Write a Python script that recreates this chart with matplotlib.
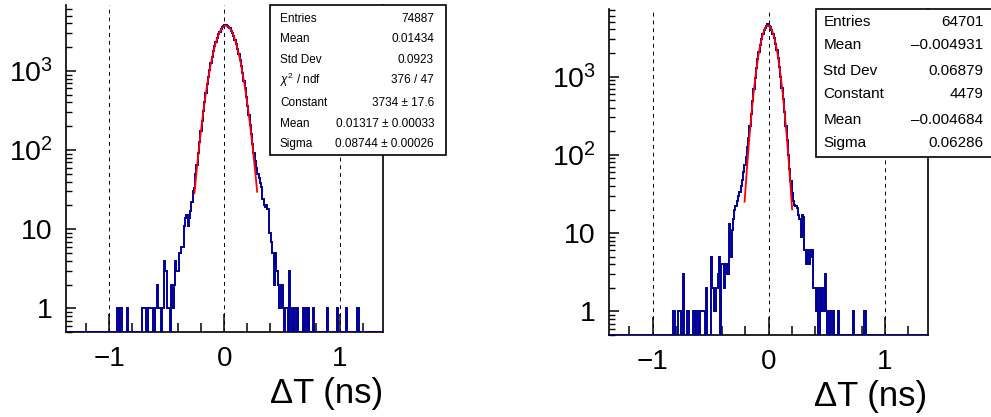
import numpy as np
import matplotlib.pyplot as plt
from matplotlib.patches import Rectangle
from matplotlib.ticker import MultipleLocator, LogLocator, FixedLocator, FixedFormatter, NullFormatter

plt.rcParams.update({
    'font.family': 'Liberation Sans',
    'mathtext.fontset': 'custom',
    'mathtext.rm': 'Liberation Sans',
    'mathtext.it': 'Liberation Sans:italic',
    'mathtext.sf': 'Liberation Sans',
})

# ---- binning shared by both histograms ----
bin_lo, bin_hi, n_bins = -1.375, 1.375, 250

# ---- left panel: bin contents (starting at bin 38) ----
left_first_bin = 38
left_counts = [
    0, 0, 1, 1, 0, 1, 0, 0, 0, 0,
    1, 0, 0, 0, 0, 0, 0, 0, 0, 0,
    0, 0, 1, 1, 1, 0, 0, 1, 1, 1,
    1, 0, 1, 1, 2, 1, 1, 0, 1, 4,
    3, 3, 1, 1, 0, 2, 1, 2, 4, 3,
    3, 5, 5, 6, 6, 11, 14, 15, 11, 14,
    17, 22, 30, 33, 50, 65, 92, 128, 175, 236,
    313, 410, 530, 675, 845, 1040, 1265, 1510, 1775, 2050,
    2340, 2620, 2890, 3140, 3360, 3540, 3690, 3790, 3810, 3720,
    3600, 3440, 3230, 2990, 2730, 2455, 2170, 1890, 1620, 1370,
    1140, 935, 755, 600, 470, 365, 280, 210, 160, 120,
    92, 72, 60, 50, 44, 38, 34, 24, 20, 19,
    20, 18, 9, 9, 7, 5, 2, 5, 3, 2,
    1, 1, 2, 1, 0, 1, 1, 0, 3, 1,
    0, 1, 1, 0, 1, 0, 0, 0, 0, 1,
    0, 1, 0, 1, 0, 0, 0, 1, 0, 0,
    0, 0, 0, 0, 0, 0, 0, 0, 1, 0,
    0, 0, 0, 0, 0, 0, 1, 0, 0, 0,
    0, 0, 0, 1, 0, 0, 0, 0, 0, 0,
    0, 0, 1,
]

# ---- right panel: bin contents (starting at bin 50) ----
right_first_bin = 50
right_counts = [
    1, 1, 0, 0, 1, 1, 0, 0, 3, 0,
    0, 1, 1, 0, 0, 0, 1, 0, 1, 1,
    0, 1, 1, 1, 1, 0, 2, 0, 0, 0,
    5, 2, 1, 1, 2, 3, 5, 0, 4, 4,
    2, 4, 3, 3, 13, 5, 11, 15, 20, 22,
    26, 30, 34, 40, 48, 60, 75, 95, 125, 165,
    230, 335, 485, 690, 950, 1270, 1650, 2080, 2550, 3020,
    3480, 3880, 4200, 4450, 4650, 4480, 4240, 3930, 3540, 3090,
    2620, 2150, 1710, 1320, 990, 720, 510, 350, 235, 155,
    100, 66, 46, 33, 26, 23, 22, 21, 17, 15,
    9, 17, 16, 6, 4, 6, 4, 6, 5, 6,
    2, 2, 1, 2, 0, 2, 1, 2, 1, 3,
    1, 0, 1, 1, 0, 1, 0, 0, 0, 1,
    0, 0, 0, 0, 0, 0, 0, 0, 0, 0,
    0, 1, 0, 0, 0, 0, 0, 0, 0, 0,
    1,
]

# gaussian fit results (constant, mean, sigma) and fit ranges
left_fit = (3734, 0.01317, 0.08744)
left_fit_range = (-0.26, 0.285)
right_fit = (4479, -0.004684, 0.06286)
right_fit_range = (-0.207, 0.202)

left_stats = [
    ("Entries", "74887"),
    ("Mean", "0.01434"),
    ("Std Dev", "0.0923"),
    ("$\\chi^{2}$ / ndf", "376 / 47"),
    ("Constant", "3734 \u00b1 17.6"),
    ("Mean", "0.01317 \u00b1 0.00033"),
    ("Sigma", "0.08744 \u00b1 0.00026"),
]
right_stats = [
    ("Entries", "64701"),
    ("Mean", "\u20130.004931"),
    ("Std Dev", "0.06879"),
    ("Constant", "4479"),
    ("Mean", "\u20130.004684"),
    ("Sigma", "0.06286"),
]

W, H = 991, 417
fig = plt.figure(figsize=(W / 100, H / 100), dpi=100)


def px_axes(x0, x1, ytop, ybot):
    return fig.add_axes([x0 / W, 1 - ybot / H, (x1 - x0) / W, (ybot - ytop) / H])


def draw_panel(ax, first_bin, counts, fit, fit_range, ymax):
    edges = np.linspace(bin_lo, bin_hi, n_bins + 1)
    full = np.zeros(n_bins)
    full[first_bin:first_bin + len(counts)] = counts
    ymin = 0.5

    ax.set_yscale('log')
    ax.set_xlim(bin_lo, bin_hi)
    ax.set_ylim(ymin, ymax)

    # dashed guide lines
    for xv in (-1, 0, 1):
        ax.axvline(xv, color='black', lw=0.7, ls=(0, (4, 4)), zorder=1)

    # empty bins sit on the frame, as ROOT draws them
    ax.stairs(np.maximum(full, ymin), edges, baseline=None,
              color='#000099', lw=1.4, zorder=3)

    c, m, s = fit
    xs = np.linspace(fit_range[0], fit_range[1], 300)
    ax.plot(xs, c * np.exp(-0.5 * ((xs - m) / s) ** 2), color='red', lw=1.3, zorder=4)

    ax.xaxis.set_major_locator(FixedLocator([-1, 0, 1]))
    ax.xaxis.set_major_formatter(FixedFormatter(['\u22121', '0', '1']))
    ax.xaxis.set_minor_locator(MultipleLocator(0.2))
    ax.yaxis.set_major_locator(FixedLocator([1, 10, 100, 1000]))
    ax.yaxis.set_major_formatter(FixedFormatter(['1', '10', '$10^{2}$', '$10^{3}$']))
    ax.yaxis.set_minor_locator(LogLocator(base=10, subs=np.arange(2, 10)))
    ax.yaxis.set_minor_formatter(NullFormatter())

    ax.tick_params(axis='x', which='major', direction='in', length=13, width=1.1,
                   labelsize=20, pad=10)
    ax.tick_params(axis='x', which='minor', direction='in', length=6.5, width=1.1)
    ax.tick_params(axis='y', which='major', direction='in', length=7.5, width=1.1,
                   labelsize=20.5, pad=9.5)
    ax.tick_params(axis='y', which='minor', direction='in', length=4, width=1.0)
    ax.tick_params(top=False, right=False, which='both')

    ax.spines['top'].set_visible(False)
    for sp in ('left', 'bottom', 'right'):
        ax.spines[sp].set_linewidth(1.2)


def stats_box(x0, x1, ytop, ybot, rows, row_y, xl, xr, size):
    fig.add_artist(Rectangle((x0 / W, 1 - ybot / H), (x1 - x0) / W, (ybot - ytop) / H,
                             transform=fig.transFigure, facecolor='white',
                             edgecolor='black', lw=1.2, zorder=10, clip_on=False))
    for (lab, val), y in zip(rows, row_y):
        fig.text(xl / W, 1 - y / H, lab, ha='left', va='center', fontsize=size, zorder=11)
        fig.text(xr / W, 1 - y / H, val, ha='right', va='center', fontsize=size, zorder=11)


ax1 = px_axes(66, 382.7, 5, 332.3)
draw_panel(ax1, left_first_bin, left_counts, left_fit, left_fit_range, 6790)
ax2 = px_axes(609, 928.3, 9, 335)
draw_panel(ax2, right_first_bin, right_counts, right_fit, right_fit_range, 7280)

stats_box(270, 446, 5, 155, left_stats,
          [19, 39.3, 60, 80, 102.7, 124, 144.3], 280, 434, 8.5)
stats_box(815.7, 1000, 9, 156.7, right_stats,
          [21.7, 45, 70.7, 94.3, 120, 143.3], 823.3, 983.3, 11)

fig.text(382.7 / W, 1 - 403 / H, '\u0394T (ns)', ha='right', va='baseline', fontsize=25)
fig.text(926.7 / W, 1 - 406 / H, '\u0394T (ns)', ha='right', va='baseline', fontsize=25)

fig.savefig('out.png', dpi=100)
